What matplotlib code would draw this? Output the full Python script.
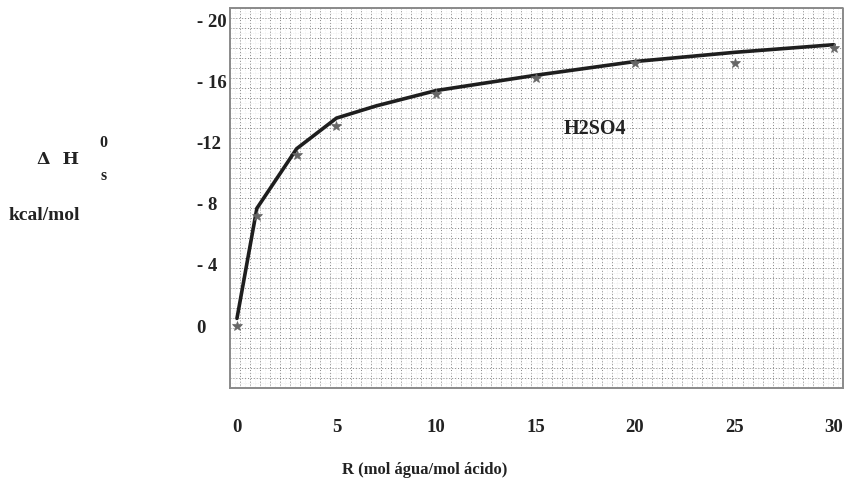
import numpy as np
import matplotlib
matplotlib.use("Agg")
import matplotlib.pyplot as plt

# Data
r_points = [0, 1, 3, 5, 10, 15, 20, 25, 30]
dh_points = [0.0, -7.2, -11.2, -13.1, -15.2, -16.2, -17.2, -17.2, -18.2]
r_curve = [0, 1, 3, 5, 7, 10, 15, 20, 25, 30]
dh_curve = [-0.5, -7.7, -11.6, -13.6, -14.4, -15.4, -16.4, -17.3, -17.9, -18.4]
x_ticks = [0, 5, 10, 15, 20, 25, 30]
x_ticklabels = ["0", "5", "10", "15", "20", "25", "30"]
y_ticks = [-20, -16, -12, -8, -4, 0]
y_ticklabels = ["- 20", "- 16", "-12", "- 8", "- 4", "0"]

plt.rcParams['font.family'] = ['Liberation Serif', 'DejaVu Serif']
plt.rcParams['font.weight'] = 'bold'

fig = plt.figure(figsize=(8.46, 4.84), dpi=100)
ax = fig.add_axes([230/846, 1-388/484, 613/846, 380/484])

# graph-paper grid
for f in np.linspace(0, 1, 123):
    ax.axvline(f*30.8-0.35, color='#e8e8e8', lw=0.5, ls=(0, (1, 1.5)), zorder=0)
for f in np.linspace(0, 1, 62):
    ax.axvline(f*30.8-0.35, color='#8c8c8c', lw=0.7, ls=(0, (1, 2)), zorder=0)
for f in np.linspace(0, 1, 77):
    ax.axhline(4.05 - f*24.85, color='#e8e8e8', lw=0.5, ls=(0, (1, 1.5)), zorder=0)
for f in np.linspace(0, 1, 39):
    ax.axhline(4.05 - f*24.85, color='#8c8c8c', lw=0.7, ls=(0, (1, 2)), zorder=0)

ax.plot(r_curve, dh_curve, color='#1e1e1e', lw=2.6, zorder=3, solid_capstyle='round')
ax.plot(r_points, dh_points, ls='none', marker='*', ms=7.5, color='#666666',
        markeredgewidth=0.5, zorder=4)

ax.set_xlim(-0.35, 30.45)
ax.set_ylim(4.05, -20.8)

ax.set_xticks(x_ticks)
ax.set_xticklabels(x_ticklabels, fontsize=13.5, fontweight='bold', color='#222222')
ax.set_yticks(y_ticks)
ax.set_yticklabels(y_ticklabels, fontsize=13.5, fontweight='bold', color='#222222')
ax.tick_params(axis='x', length=0, pad=22)
ax.tick_params(axis='y', length=0, pad=24)
for lab in ax.get_yticklabels():
    lab.set_horizontalalignment('left')

for s in ax.spines.values():
    s.set_color('#8a8a8a')
    s.set_linestyle((0, (1, 1)))
    s.set_linewidth(1.4)

ax.text(18.0, -12.9, "H2SO4", fontsize=14.5, fontweight='bold', color='#222222',
        ha='center', va='center')

fig.text(425/846, 1-470/484, "R (mol água/mol ácido)", fontsize=12, fontweight='bold',
         color='#222222', ha='center', va='center')
fig.text(58/846, 1-159/484, "Δ  H", fontsize=12.5, fontweight='bold', color='#222222',
         ha='center', va='center', family=['DejaVu Serif'])
fig.text(103/846, 1-143/484, "0", fontsize=11.5, fontweight='bold', color='#222222',
         ha='center', va='center')
fig.text(104/846, 1-176/484, "s", fontsize=11.5, fontweight='bold', color='#222222',
         ha='center', va='center')
fig.text(44/846, 1-215/484, "kcal/mol", fontsize=14, fontweight='bold', color='#222222',
         ha='center', va='center')

fig.savefig("out.png", dpi=100, facecolor='white')
